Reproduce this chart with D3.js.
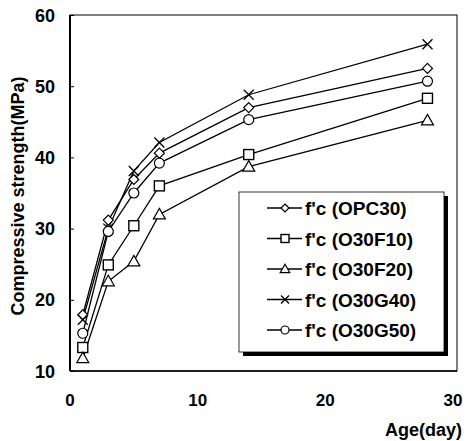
<!DOCTYPE html>
<html>
<head>
<meta charset="utf-8">
<script src="https://cdn.jsdelivr.net/npm/d3@7"></script>
<style>
  body { margin: 0; background: #fff; }
  text { font-family: "Liberation Sans", Arial, sans-serif; font-weight: bold; }
</style>
</head>
<body>
<svg id="chart" width="470" height="441"></svg>
<script>
// data
var days = [1, 3, 5, 7, 14, 28]
var seriesNames = ["f'c (OPC30)", "f'c (O30F10)", "f'c (O30F20)", "f'c (O30G40)", "f'c (O30G50)"]
var symbolsUsed = ["diamond", "square", "triangle", "cross", "circle"]
var opc30 = [17.9, 31.2, 36.9, 40.6, 47.0, 52.5]
var o30f10 = [13.3, 24.9, 30.4, 36.0, 40.4, 48.3]
var o30f20 = [11.8, 22.6, 25.4, 32.0, 38.7, 45.2]
var o30g40 = [17.2, 30.0, 38.1, 42.1, 48.8, 55.9]
var o30g50 = [15.3, 29.6, 35.0, 39.2, 45.3, 50.7]
var allSeries = [opc30, o30f10, o30f20, o30g40, o30g50]
var xTicks = [0, 10, 20, 30]
var yTicks = [10, 20, 30, 40, 50, 60]

var margin = {top: 15, right: 13, bottom: 70, left: 70}
var _w = 453 - margin.left
var _h = 371 - margin.top

var svg = d3.select("#chart")

var x = d3.scaleLinear().domain([0, 30]).range([margin.left, margin.left + _w])
var y = d3.scaleLinear().domain([10, 60]).range([margin.top + _h, margin.top])

// plot frame
svg.append("rect")
    .attr("x", margin.left)
    .attr("y", margin.top)
    .attr("width", 457 - margin.left)
    .attr("height", _h)
    .attr("fill", "none")
    .attr("stroke", "#000")
    .attr("stroke-width", 1)
svg.append("line")
    .attr("x1", margin.left).attr("x2", margin.left)
    .attr("y1", margin.top).attr("y2", margin.top + _h)
    .attr("stroke", "#000").attr("stroke-width", 2)
svg.append("line")
    .attr("x1", margin.left).attr("x2", 457)
    .attr("y1", margin.top + _h).attr("y2", margin.top + _h)
    .attr("stroke", "#000").attr("stroke-width", 1.6)

// y axis: inward ticks, labels on the left
var yAxis = svg.append("g")
    .attr("transform", "translate(" + margin.left + ",0)")
    .call(d3.axisRight(y).tickValues(yTicks).tickSize(4).tickFormat(""))
yAxis.select(".domain").remove()
svg.selectAll(".ylab")
    .data(yTicks)
    .enter()
    .append("text")
    .attr("x", 55)
    .attr("y", function(d){ return y(d) + 6.5 })
    .attr("text-anchor", "end")
    .attr("font-size", "18px")
    .text(function(d){ return d })

svg.selectAll(".xlab")
    .data(xTicks)
    .enter()
    .append("text")
    .attr("x", function(d){ return x(d) })
    .attr("y", 406)
    .attr("text-anchor", "middle")
    .attr("font-size", "17px")
    .text(function(d){ return d })

svg.append("text")
    .attr("transform", "translate(24,196) rotate(-90)")
    .attr("text-anchor", "middle")
    .attr("font-size", "18px")
    .text("Compressive strength(MPa)")

svg.append("text")
    .attr("x", 462)
    .attr("y", 436)
    .attr("text-anchor", "end")
    .attr("font-size", "18px")
    .text("Age(day)")

// markers
function drawMarker(g, type, cx, cy, s) {
    if (type == "diamond") {
        g.append("path").attr("d", "M" + cx + "," + (cy - s) + "L" + (cx + s) + "," + cy + "L" + cx + "," + (cy + s) + "L" + (cx - s) + "," + cy + "Z")
            .attr("fill", "#fff").attr("stroke", "#000").attr("stroke-width", 1.2)
    } else if (type == "square") {
        g.append("rect").attr("x", cx - s).attr("y", cy - s).attr("width", 2 * s).attr("height", 2 * s)
            .attr("fill", "#fff").attr("stroke", "#000").attr("stroke-width", 1.4)
    } else if (type == "triangle") {
        g.append("path").attr("d", "M" + cx + "," + (cy - 1.2 * s) + "L" + (cx + 1.2 * s) + "," + (cy + 0.9 * s) + "L" + (cx - 1.2 * s) + "," + (cy + 0.9 * s) + "Z")
            .attr("fill", "#fff").attr("stroke", "#000").attr("stroke-width", 1.2)
    } else if (type == "cross") {
        g.append("path").attr("d", "M" + (cx - s) + "," + (cy - s) + "L" + (cx + s) + "," + (cy + s) + "M" + (cx - s) + "," + (cy + s) + "L" + (cx + s) + "," + (cy - s))
            .attr("fill", "none").attr("stroke", "#000").attr("stroke-width", 1.3)
    } else {
        g.append("circle").attr("cx", cx).attr("cy", cy).attr("r", s)
            .attr("fill", "#fff").attr("stroke", "#000").attr("stroke-width", 1.2)
    }
}

var line = d3.line()
    .x(function(d, i){ return x(days[i]) })
    .y(function(d){ return y(d) })

allSeries.forEach(function(s, k) {
    svg.append("path")
        .attr("d", line(s))
        .attr("fill", "none")
        .attr("stroke", "#000")
        .attr("stroke-width", 1.3)
})
allSeries.forEach(function(s, k) {
    var g = svg.append("g")
    s.forEach(function(v, i) {
        drawMarker(g, symbolsUsed[k], x(days[i]), y(v), 5)
    })
})

// legend
var lx = 239, ly = 192, lw = 205, lh = 160
svg.append("rect")
    .attr("x", lx + 4).attr("y", ly + 4)
    .attr("width", lw).attr("height", lh)
    .attr("fill", "#000")
svg.append("rect")
    .attr("x", lx).attr("y", ly)
    .attr("width", lw).attr("height", lh)
    .attr("fill", "#fff")
    .attr("stroke", "#000")
    .attr("stroke-width", 0.8)

seriesNames.forEach(function(name, k) {
    var yy = 208 + k * 30.5
    svg.append("line")
        .attr("x1", 267).attr("x2", 302)
        .attr("y1", yy).attr("y2", yy)
        .attr("stroke", "#000").attr("stroke-width", 1.3)
    var g = svg.append("g")
    drawMarker(g, symbolsUsed[k], 285, yy, 4)
    svg.append("text")
        .attr("x", 305)
        .attr("y", yy + 7)
        .attr("font-size", "19px")
        .text(name)
})
</script>
</body>
</html>
